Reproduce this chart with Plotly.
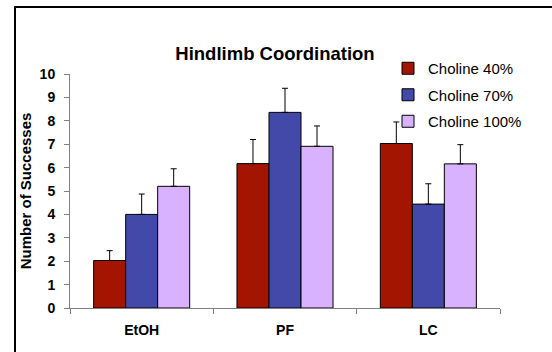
import plotly.graph_objects as go

categories = ["EtOH", "PF", "LC"]
series_names = ["Choline 40%", "Choline 70%", "Choline 100%"]
choline40 = [2.03, 6.17, 7.03]
choline40_err = [0.42, 1.03, 0.92]
choline70 = [4.0, 8.36, 4.44]
choline70_err = [0.87, 1.03, 0.87]
choline100 = [5.2, 6.91, 6.16]
choline100_err = [0.75, 0.87, 0.82]
colors = ["#A31500", "#4349A9", "#D8B1FF"]
y_ticks = list(range(0, 11))

FONT = "Liberation Sans, Arial, sans-serif"

fig = go.Figure()
for name, vals, errs, col in zip(series_names, [choline40, choline70, choline100],
                                 [choline40_err, choline70_err, choline100_err], colors):
    fig.add_trace(go.Bar(
        x=categories, y=vals, name=name, legendgroup=name,
        marker=dict(color=col, line=dict(color="#000000", width=1)),
        error_y=dict(type="data", array=errs, arrayminus=[0] * len(errs),
                     symmetric=False, color="#000000", thickness=1, width=3),
    ))

L, R, T, B = 70, 52, 74, 44
W, H = 552, 352
pw, ph = W - L - R, H - T - B

def px_x(p):
    return (p - L) / pw

def px_y(p):
    return (H - B - p) / ph

fig.update_layout(
    width=W, height=H,
    margin=dict(l=L, r=R, t=T, b=B, pad=0),
    paper_bgcolor="white", plot_bgcolor="white",
    barmode="group", bargap=0.33, bargroupgap=0,
    font=dict(family=FONT, color="#000000"),
    title=dict(text="<b>Hindlimb Coordination</b>", font=dict(size=18.5, family=FONT),
               xref="paper", x=px_x(275), xanchor="center",
               yref="container", y=1 - 54 / H, yanchor="middle"),
    legend=dict(x=px_x(388), y=px_y(52), xanchor="left", yanchor="top",
                font=dict(size=15, family=FONT), bgcolor="rgba(0,0,0,0)",
                tracegroupgap=4, itemwidth=30),
    showlegend=True,
    xaxis=dict(showline=True, linecolor="#808080", linewidth=1,
               ticks="outside", ticklen=5, tickcolor="#808080", tickson="boundaries",
               tickfont=dict(size=14, family=FONT),
               showgrid=False, zeroline=False, ticklabelstandoff=9),
    yaxis=dict(range=[0, 10], tickvals=y_ticks, ticktext=[f"<b>{v}</b>" for v in y_ticks],
               showline=True, linecolor="#808080", linewidth=1,
               ticks="outside", ticklen=5, tickcolor="#808080",
               tickfont=dict(size=14, family=FONT), ticklabelstandoff=6,
               showgrid=False, zeroline=False,
               title=dict(text="<b>Number of Successes</b>", font=dict(size=15, family=FONT),
                          standoff=4)),
)
fig.update_xaxes(ticktext=[f"<b>{c}</b>" for c in categories], tickvals=categories)

fig.add_shape(type="rect", xref="paper", yref="paper",
              x0=px_x(15), x1=px_x(700), y0=px_y(700), y1=px_y(7),
              line=dict(color="#000000", width=2), fillcolor="rgba(0,0,0,0)", layer="below")

fig.write_html("out.html")
